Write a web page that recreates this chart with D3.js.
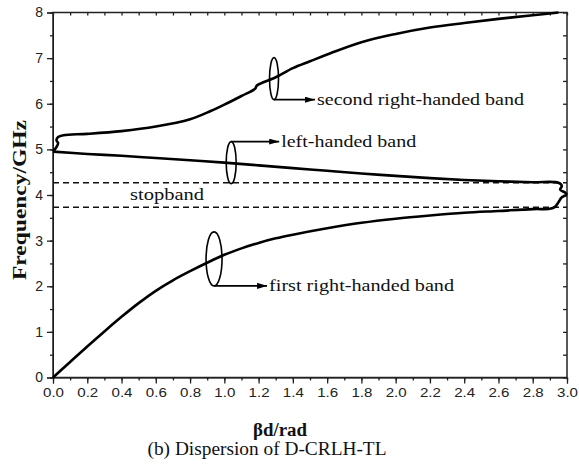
<!DOCTYPE html>
<html><head><meta charset="utf-8">
<script src="https://cdn.jsdelivr.net/npm/d3@7"></script>
<style>body{margin:0;background:#fff}</style>
</head><body><svg id="c" width="579" height="473"></svg>
<script>
// Data
const firstBand = [[0,0],[0.1,0.34],[0.2,0.68],[0.3,1.01],[0.4,1.33],[0.5,1.63],[0.6,1.9],[0.7,2.13],[0.8,2.33],[0.93,2.57],[1.0,2.69],[1.1,2.83],[1.2,2.95],[1.3,3.05],[1.4,3.13],[1.6,3.27],[1.8,3.39],[2.0,3.48],[2.2,3.55],[2.4,3.61],[2.6,3.65],[2.8,3.69],[2.9,3.7],[2.93,3.74],[2.95,3.84],[2.97,3.95],[3.0,4.0]];
const leftBand = [[0,4.95],[0.2,4.9],[0.4,4.86],[0.6,4.81],[0.8,4.76],[1.0,4.71],[1.2,4.65],[1.4,4.59],[1.6,4.53],[1.8,4.47],[2.0,4.42],[2.2,4.37],[2.4,4.33],[2.6,4.3],[2.8,4.28],[2.95,4.27],[2.97,4.2],[2.96,4.12],[2.99,4.05],[3.0,4.0]];
const secondBand = [[0,4.95],[0.02,5.05],[0.03,5.14],[0.02,5.2],[0.03,5.27],[0.06,5.31],[0.2,5.34],[0.4,5.4],[0.6,5.5],[0.8,5.66],[0.92,5.84],[1.0,5.98],[1.1,6.17],[1.18,6.33],[1.19,6.4],[1.3,6.58],[1.4,6.78],[1.5,6.93],[1.6,7.08],[1.8,7.35],[2.0,7.53],[2.2,7.67],[2.4,7.77],[2.6,7.86],[2.8,7.94],[2.95,8.0]];
const stopbandEdges = [3.73, 4.27];
const xTicks = [0.0,0.2,0.4,0.6,0.8,1.0,1.2,1.4,1.6,1.8,2.0,2.2,2.4,2.6,2.8,3.0];
const yTicks = [0,1,2,3,4,5,6,7,8];
const annotations = [
  {label:"second right-handed band", x:1.29, y:6.55, ry:21, rx:4.5, arrowLen:41, w:207},
  {label:"left-handed band", x:1.04, y:4.71, ry:21, rx:5, arrowLen:48, top:true, w:135},
  {label:"first right-handed band", x:0.94, y:2.6, ry:27, rx:8, arrowLen:53, w:185}
];

const svg = d3.select("#c");
const L=53, R=567, T=12.5, B=377.5;
const x = d3.scaleLinear().domain([0,3]).range([L,R]);
const y = d3.scaleLinear().domain([0,8]).range([B,T]);
const tickFont = "'Liberation Sans', Arial, sans-serif";
const serif = "'Liberation Serif', 'Times New Roman', serif";

// Axes
const xMinor = d3.range(0,3.0001,0.1);
const yMinor = d3.range(0,8.0001,0.5);
const gx = svg.append("g").attr("transform",`translate(0,${B})`);
gx.call(d3.axisBottom(x).tickValues(xMinor).tickSize(3).tickFormat(""));
gx.call(g=>g.selectAll(".domain").remove());
const gx2 = svg.append("g").attr("transform",`translate(0,${B})`)
  .call(d3.axisBottom(x).tickValues(xTicks).tickSize(6).tickPadding(4).tickFormat(d3.format(".1f")));
gx2.selectAll("text").attr("font-family",tickFont).attr("font-size",13.5).attr("fill","#222")
  .attr("textLength",21).attr("lengthAdjust","spacingAndGlyphs");
const gy = svg.append("g").attr("transform",`translate(${L},0)`);
gy.call(d3.axisLeft(y).tickValues(yMinor).tickSize(3).tickFormat(""));
gy.call(g=>g.selectAll(".domain").remove());
const gy2 = svg.append("g").attr("transform",`translate(${L},0)`)
  .call(d3.axisLeft(y).tickValues(yTicks).tickSize(6).tickPadding(4).tickFormat(d3.format("d")));
gy2.selectAll("text").attr("font-family",tickFont).attr("font-size",14).attr("fill","#222");
// Top and right mirror ticks (inward)
const gt = svg.append("g").attr("transform",`translate(0,${T})`)
  .call(d3.axisBottom(x).tickValues(xMinor).tickSize(3).tickFormat(""));
gt.selectAll(".domain").remove();
const gr = svg.append("g").attr("transform",`translate(${R},0)`)
  .call(d3.axisLeft(y).tickValues(yMinor).tickSize(4).tickFormat(""));
gr.selectAll(".domain").remove();
svg.selectAll(".tick line").attr("stroke","#222").attr("stroke-width",1.3);
svg.append("rect").attr("x",L).attr("y",T).attr("width",R-L).attr("height",B-T)
  .attr("fill","none").attr("stroke","#222").attr("stroke-width",1.5);

// Stopband lines
svg.selectAll(".sb").data(stopbandEdges).enter().append("line")
  .attr("x1",x(0)).attr("x2",x(3)).attr("y1",d=>y(d)).attr("y2",d=>y(d))
  .attr("stroke","#111").attr("stroke-width",1.6).attr("stroke-dasharray","6,4");
svg.append("text").attr("x",x(0.45)).attr("y",y(4.0)).attr("dy","0.32em")
  .attr("font-family",serif).attr("font-size",17).attr("fill","#111")
  .attr("textLength",74).attr("lengthAdjust","spacingAndGlyphs").text("stopband");

// Curves
const line = d3.line().x(d=>x(d[0])).y(d=>y(d[1])).curve(d3.curveCatmullRom.alpha(0.5));
[firstBand,leftBand,secondBand].forEach(b=>{
  svg.append("path").attr("d",line(b)).attr("fill","none").attr("stroke","#000")
    .attr("stroke-width",2.6).attr("stroke-linejoin","round");
});

// Annotations
svg.append("defs").append("marker").attr("id","arr").attr("viewBox","0 0 10 6")
  .attr("refX",10).attr("refY",3).attr("markerWidth",10).attr("markerHeight",6)
  .attr("markerUnits","userSpaceOnUse").attr("orient","auto")
  .append("path").attr("d","M0,0L10,3L0,6Z").attr("fill","#000");
annotations.forEach(a=>{
  const cx=x(a.x), cy=y(a.y);
  svg.append("ellipse").attr("cx",cx).attr("cy",cy).attr("rx",a.rx).attr("ry",a.ry)
    .attr("fill","none").attr("stroke","#000").attr("stroke-width",1.6);
  const ay = a.top ? cy-a.ry : cy+a.ry;
  svg.append("line").attr("x1",cx).attr("y1",ay).attr("x2",cx+a.arrowLen).attr("y2",ay)
    .attr("stroke","#000").attr("stroke-width",1.6).attr("marker-end","url(#arr)");
  svg.append("text").attr("x",cx+a.arrowLen+2).attr("y",ay).attr("dy","0.32em")
    .attr("font-family",serif).attr("font-size",17.5).attr("fill","#111")
    .attr("textLength",a.w).attr("lengthAdjust","spacingAndGlyphs").text(a.label);
});

// Axis titles & caption
svg.append("text").attr("transform",`translate(20,${(T+B)/2+5}) rotate(-90)`).attr("dy","0.35em")
  .attr("text-anchor","middle").attr("font-family",serif).attr("font-weight","bold").attr("font-size",18)
  .attr("textLength",160).attr("lengthAdjust","spacingAndGlyphs")
  .attr("fill","#111").text("Frequency/GHz");
svg.append("text").attr("x",280).attr("y",430).attr("dy","0.35em")
  .attr("text-anchor","middle").attr("font-family",serif).attr("font-weight","bold").attr("font-size",18)
  .attr("textLength",54).attr("lengthAdjust","spacingAndGlyphs")
  .attr("fill","#111").text("βd/rad");
svg.append("text").attr("x",267).attr("y",449).attr("dy","0.35em")
  .attr("text-anchor","middle").attr("font-family",serif).attr("font-size",18)
  .attr("textLength",239).attr("lengthAdjust","spacingAndGlyphs")
  .attr("fill","#111").text("(b) Dispersion of D-CRLH-TL");
</script></body></html>
